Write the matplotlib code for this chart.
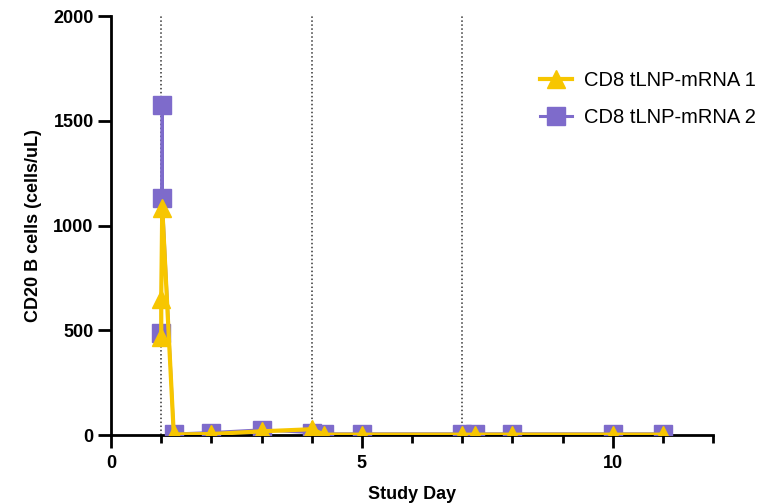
import matplotlib
matplotlib.use("Agg")
import matplotlib.pyplot as plt
from matplotlib.ticker import MultipleLocator

plt.rcParams["font.family"] = ["Liberation Sans", "DejaVu Sans"]

# Study day of each sample (several draws on dosing day 1)
days_1 = [1.0, 1.0, 1.02, 1.25, 2, 3, 4, 4.25, 5, 7, 7.25, 8, 10, 11]
days_2 = [1.0, 1.02, 1.02, 1.25, 2, 3, 4, 4.25, 5, 7, 7.25, 8, 10, 11]

# CD20+ B cell counts (cells/uL)
cd20_mrna1 = [467, 652, 1086, 3, 5, 18, 28, 2, 2, 2, 2, 2, 2, 2]
cd20_mrna2 = [486, 1576, 1133, 5, 12, 25, 12, 6, 6, 6, 6, 6, 6, 6]

dose_days = [1, 4, 7]

series_names = ["CD8 tLNP-mRNA 1", "CD8 tLNP-mRNA 2"]
yellow = "#F7C600"
purple = "#7E6BCB"

fig = plt.figure(figsize=(7.66, 5.03), dpi=100)
ax = fig.add_axes([0.145, 0.135, 0.786, 0.833])

for d in dose_days:
    ax.plot([d, d], [0, 2000], color="#333333", lw=1.1, ls=(0, (1, 1.6)), zorder=1)

ax.plot(days_2, cd20_mrna2, color=purple, lw=2.2, marker="s", ms=13,
        mec=purple, mfc=purple, label=series_names[1], zorder=3)
ax.plot(days_1, cd20_mrna1, color=yellow, lw=3, marker="^", ms=13.5,
        mec=yellow, mfc=yellow, label=series_names[0], zorder=4)

ax.set_xlim(0, 12)
ax.set_ylim(0, 2000)
ax.spines["top"].set_visible(False)
ax.spines["right"].set_visible(False)
for s in ("left", "bottom"):
    ax.spines[s].set_linewidth(2)
    ax.spines[s].set_clip_on(False)

ax.xaxis.set_major_locator(MultipleLocator(5))
ax.xaxis.set_minor_locator(MultipleLocator(1))
ax.yaxis.set_major_locator(MultipleLocator(500))
ax.tick_params(axis="both", which="major", width=2, length=9.5, labelsize=13)
ax.tick_params(axis="x", which="major", pad=5)
ax.tick_params(axis="y", which="major", pad=3)
ax.tick_params(axis="x", which="minor", width=2, length=6)
for lab in ax.get_xticklabels() + ax.get_yticklabels():
    lab.set_fontweight("bold")

ax.set_xlabel("Study Day", fontsize=13, fontweight="bold", labelpad=10)
ax.set_ylabel("CD20 B cells (cells/uL)", fontsize=13, fontweight="bold", labelpad=8)

handles, labels = ax.get_legend_handles_labels()
leg = fig.legend(handles[::-1], labels[::-1], loc="upper left",
                 bbox_to_anchor=(0.705, 0.859), frameon=False, fontsize=14.5,
                 handlelength=1.6, handletextpad=0.6, labelspacing=0.9,
                 borderpad=0, borderaxespad=0)

fig.savefig("out.png", dpi=100)
